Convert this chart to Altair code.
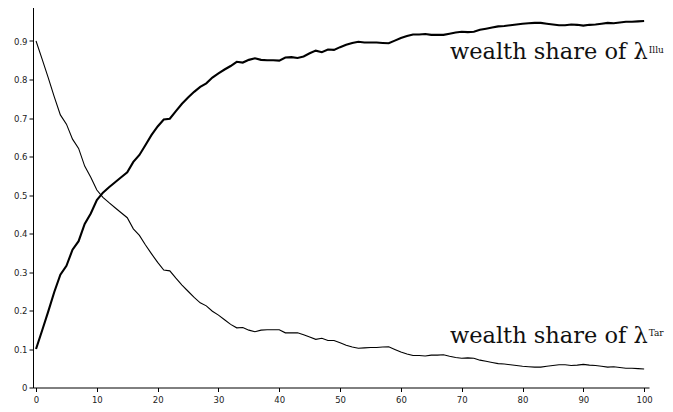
import altair as alt
import pandas as pd

periods = list(range(0, 101))

share_illu = [
    0.100, 0.148, 0.197, 0.248, 0.293, 0.316, 0.358, 0.380, 0.425, 0.452,
    0.487, 0.506, 0.520, 0.533, 0.546, 0.559, 0.586, 0.604, 0.630, 0.656,
    0.678, 0.696, 0.698, 0.718, 0.737, 0.753, 0.768, 0.781, 0.790, 0.805,
    0.816, 0.826, 0.835, 0.846, 0.844, 0.851, 0.855, 0.851, 0.850, 0.850,
    0.849, 0.857, 0.858, 0.856, 0.860, 0.868, 0.875, 0.871, 0.878, 0.877,
    0.884, 0.890, 0.895, 0.898, 0.896, 0.896, 0.896, 0.895, 0.894, 0.901,
    0.908, 0.913, 0.917, 0.917, 0.918, 0.916, 0.916, 0.916, 0.919, 0.922,
    0.924, 0.923, 0.924, 0.929, 0.932, 0.935, 0.938, 0.939, 0.941, 0.943,
    0.945, 0.946, 0.947, 0.947, 0.945, 0.943, 0.941, 0.941, 0.943, 0.942,
    0.940, 0.942, 0.943, 0.945, 0.947, 0.946, 0.948, 0.950, 0.950, 0.951,
    0.952,
]

share_tar = [
    0.900, 0.853, 0.805, 0.755, 0.708, 0.684, 0.645, 0.621, 0.575, 0.546,
    0.513, 0.494, 0.480, 0.467, 0.454, 0.441, 0.412, 0.395, 0.370, 0.347,
    0.325, 0.305, 0.303, 0.284, 0.266, 0.250, 0.234, 0.220, 0.212, 0.198,
    0.188, 0.176, 0.164, 0.155, 0.156, 0.149, 0.145, 0.149, 0.150, 0.150,
    0.150, 0.142, 0.142, 0.142, 0.137, 0.131, 0.125, 0.128, 0.122, 0.122,
    0.116, 0.110, 0.105, 0.102, 0.103, 0.104, 0.104, 0.105, 0.106, 0.099,
    0.092, 0.087, 0.083, 0.083, 0.082, 0.084, 0.084, 0.085, 0.081, 0.078,
    0.076, 0.077, 0.076, 0.071, 0.068, 0.065, 0.062, 0.061, 0.059, 0.057,
    0.055, 0.054, 0.053, 0.053, 0.055, 0.057, 0.059, 0.059, 0.057, 0.058,
    0.060, 0.058, 0.057, 0.055, 0.053, 0.054, 0.052, 0.050, 0.050, 0.049,
    0.048,
]

x_ticks = [0, 10, 20, 30, 40, 50, 60, 70, 80, 90, 100]
y_ticks = [0, 0.1, 0.2, 0.3, 0.4, 0.5, 0.6, 0.7, 0.8, 0.9, 1.0]

label_main = ["wealth share of λ", "wealth share of λ"]
label_main_x = [100.6, 100.6]
label_main_y = [0.853, 0.116]
label_sup = ["Illu", "Tar"]
label_sup_x = [100.75, 100.75]
label_sup_y = [0.870, 0.133]

df_illu = pd.DataFrame({"t": periods, "v": share_illu})
df_tar = pd.DataFrame({"t": periods, "v": share_tar})
df_main = pd.DataFrame({"text": label_main, "x": label_main_x, "y": label_main_y})
df_sup = pd.DataFrame({"text": label_sup, "x": label_sup_x, "y": label_sup_y})

xscale = alt.Scale(domain=[-0.5, 100.8], nice=False, zero=False)
yscale = alt.Scale(domain=[0, 1], nice=False)

xaxis = alt.Axis(values=x_ticks, title=None, grid=False, format="d",
                 labelFlush=False, labelOverlap=False)
yaxis = alt.Axis(values=y_ticks, title=None, grid=False, format=".1~f",
                 labelFlush=False, labelOverlap=False)

X = alt.X("t:Q", scale=xscale, axis=xaxis)
Y = alt.Y("v:Q", scale=yscale, axis=yaxis)

line_illu = alt.Chart(df_illu).mark_line(color="black", strokeWidth=2.1).encode(x=X, y=Y)
line_tar = alt.Chart(df_tar).mark_line(color="black", strokeWidth=1.1).encode(x=X, y=Y)

TX = alt.X("x:Q", scale=xscale, axis=xaxis)
TY = alt.Y("y:Q", scale=yscale, axis=yaxis)

text_main = alt.Chart(df_main).mark_text(
    align="right", baseline="alphabetic", font="DejaVu Serif", fontSize=22.5,
    color="#111",
).encode(x=TX, y=TY, text="text:N")
text_sup = alt.Chart(df_sup).mark_text(
    align="left", baseline="alphabetic", font="DejaVu Serif", fontSize=9,
    color="#111",
).encode(x=TX, y=TY, text="text:N")

chart = alt.layer(line_illu, line_tar, text_main, text_sup).properties(
    width=616, height=385,
    autosize=alt.AutoSizeParams(type="none"),
    padding={"left": 25, "top": -5.5, "right": 16, "bottom": 16.5},
    background="white",
).configure_view(stroke=None).configure_axis(
    domainColor="black", domainWidth=1, tickColor="black", tickSize=4,
    tickWidth=1, labelColor="#222", labelFont="DejaVu Sans", labelFontSize=8.5,
    labelPadding=2,
).configure_axisX(labelPadding=4)

chart.save("out.html", embed_options={"renderer": "svg", "actions": False})
